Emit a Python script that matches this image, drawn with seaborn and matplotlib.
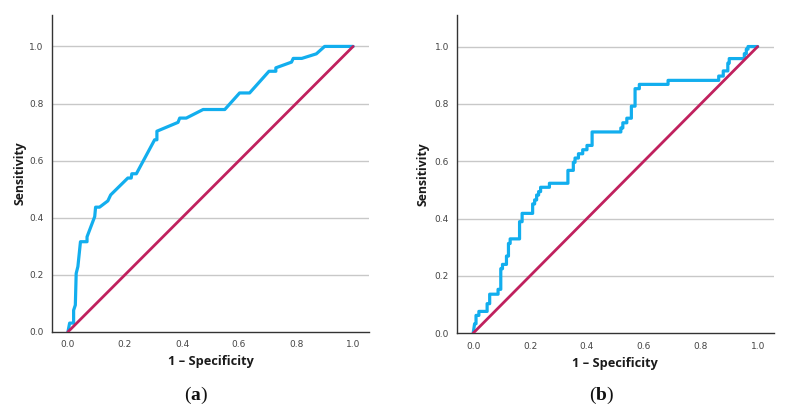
import matplotlib
matplotlib.use("Agg")
import matplotlib.pyplot as plt
import seaborn as sns
import pandas as pd

# ROC curve (a): 1 - specificity, sensitivity
fpr_a = [0.0, 0.006, 0.02, 0.02, 0.026, 0.029, 0.035, 0.044, 0.044, 0.067, 0.067,
         0.094, 0.097, 0.111, 0.14, 0.15, 0.21, 0.222, 0.224, 0.24, 0.304, 0.312,
         0.312, 0.386, 0.392, 0.415, 0.474, 0.55, 0.602, 0.637, 0.705, 0.729,
         0.729, 0.784, 0.79, 0.82, 0.871, 0.9, 1.0]
tpr_a = [0.0, 0.031, 0.031, 0.076, 0.094, 0.205, 0.229, 0.316, 0.316, 0.316, 0.333,
         0.404, 0.437, 0.437, 0.459, 0.48, 0.539, 0.539, 0.554, 0.554, 0.673, 0.673,
         0.703, 0.734, 0.749, 0.749, 0.779, 0.779, 0.837, 0.837, 0.913, 0.913,
         0.925, 0.945, 0.958, 0.958, 0.974, 1.0, 1.0]

# ROC curve (b)
fpr_b = [0.0, 0.005, 0.01, 0.01, 0.02, 0.02, 0.049, 0.049, 0.058, 0.058, 0.0875,
         0.0875, 0.097, 0.097, 0.103, 0.103, 0.117, 0.117, 0.124, 0.124, 0.13,
         0.13, 0.163, 0.163, 0.172, 0.172, 0.209, 0.209, 0.216, 0.216, 0.223,
         0.223, 0.23, 0.23, 0.237, 0.237, 0.268, 0.268, 0.333, 0.333, 0.352,
         0.352, 0.358, 0.358, 0.37, 0.37, 0.385, 0.385, 0.4, 0.4, 0.418, 0.418,
         0.519, 0.519, 0.526, 0.526, 0.54, 0.54, 0.556, 0.556, 0.569, 0.569,
         0.584, 0.584, 0.685, 0.685, 0.863, 0.863, 0.879, 0.879, 0.895, 0.895,
         0.9, 0.9, 0.953, 0.953, 0.96, 0.96, 0.966, 0.966, 1.0]
tpr_b = [0.0, 0.033, 0.033, 0.062, 0.062, 0.076, 0.076, 0.103, 0.103, 0.136, 0.136,
         0.153, 0.153, 0.225, 0.225, 0.24, 0.24, 0.269, 0.269, 0.313, 0.313,
         0.329, 0.329, 0.389, 0.389, 0.418, 0.418, 0.451, 0.451, 0.465, 0.465,
         0.482, 0.482, 0.494, 0.494, 0.509, 0.509, 0.523, 0.523, 0.568, 0.568,
         0.596, 0.596, 0.611, 0.611, 0.626, 0.626, 0.640, 0.640, 0.655, 0.655, 0.702,
         0.702, 0.716, 0.716, 0.734, 0.734, 0.75, 0.75, 0.792, 0.792, 0.853,
         0.853, 0.868, 0.868, 0.882, 0.882, 0.897, 0.897, 0.915, 0.915, 0.942,
         0.942, 0.958, 0.958, 0.975, 0.975, 0.991, 0.991, 1.0, 1.0]

ref_x = [0.0, 1.0]
ref_y = [0.0, 1.0]

y_ticks = [0.0, 0.2, 0.4, 0.6, 0.8, 1.0]
x_ticks = [0.0, 0.2, 0.4, 0.6, 0.8, 1.0]
panel_letters = ["a", "b"]

sns.set_theme(style="white")
plt.rcParams["font.family"] = ["DejaVu Sans"]
plt.rcParams["mathtext.fontset"] = "custom"
plt.rcParams["mathtext.bf"] = "Liberation Serif:bold"
plt.rcParams["mathtext.rm"] = "Liberation Serif"

blue = "#12AEEE"
red = "#C0215E"

fig = plt.figure(figsize=(7.87, 4.17), dpi=100)
ax_a = fig.add_axes([0.066, 0.204, 0.403, 0.76])
ax_b = fig.add_axes([0.581, 0.201, 0.402, 0.763])

curves = [(fpr_a, tpr_a), (fpr_b, tpr_b)]
for ax, (fx, ty) in zip([ax_a, ax_b], curves):
    df = pd.DataFrame({"fpr": fx, "tpr": ty})
    ref = pd.DataFrame({"fpr": ref_x, "tpr": ref_y})
    for yv in y_ticks[1:]:
        ax.axhline(yv, color="#c8c8c8", lw=1.0, zorder=0)
    sns.lineplot(data=ref, x="fpr", y="tpr", ax=ax, color=red, lw=2.0,
                 sort=False, estimator=None, zorder=3)
    sns.lineplot(data=df, x="fpr", y="tpr", ax=ax, color=blue, lw=2.3,
                 sort=False, estimator=None, zorder=2)
    ax.set_xlim(-0.056, 1.056)
    ax.set_ylim(0, 1.11)
    ax.set_xticks(x_ticks)
    ax.set_yticks(y_ticks)
    ax.set_xticklabels([f"{v:.1f}" for v in x_ticks])
    ax.set_yticklabels([f"{v:.1f}" for v in y_ticks])
    ax.tick_params(axis="both", length=0, labelsize=6.5, colors="#444444", pad=6)
    for s in ["top", "right"]:
        ax.spines[s].set_visible(False)
    for s in ["left", "bottom"]:
        ax.spines[s].set_color("#333333")
        ax.spines[s].set_linewidth(1.0)
    ax.set_xlabel("")
    ax.set_ylabel("")
    ax.set_facecolor("white")

lab_font = ["Open Sans", "DejaVu Sans"]
# axis labels
fig.text(211 / 787, 1 - 362 / 417, "1 – Specificity", ha="center", va="center",
         fontsize=9.2, fontweight="bold", color="#1a1a1a", family=lab_font)
fig.text(615 / 787, 1 - 363 / 417, "1 – Specificity", ha="center", va="center",
         fontsize=9.2, fontweight="bold", color="#1a1a1a", family=lab_font)
fig.text(20 / 787, 1 - 173 / 417, "Sensitivity", ha="center", va="center",
         rotation=90, fontsize=8.8, fontweight="bold", color="#1a1a1a", family=lab_font)
fig.text(423 / 787, 1 - 174 / 417, "Sensitivity", ha="center", va="center",
         rotation=90, fontsize=8.8, fontweight="bold", color="#1a1a1a", family=lab_font)

serif = ["Liberation Serif", "DejaVu Serif"]
fig.text(196 / 787, 1 - 395 / 417, "($\\mathbf{" + panel_letters[0] + "}$)",
         ha="center", va="center", fontsize=14, family=serif, color="#111111")
fig.text(602 / 787, 1 - 395 / 417, "($\\mathbf{" + panel_letters[1] + "}$)",
         ha="center", va="center", fontsize=14, family=serif, color="#111111")

fig.savefig("out.png", dpi=100)
